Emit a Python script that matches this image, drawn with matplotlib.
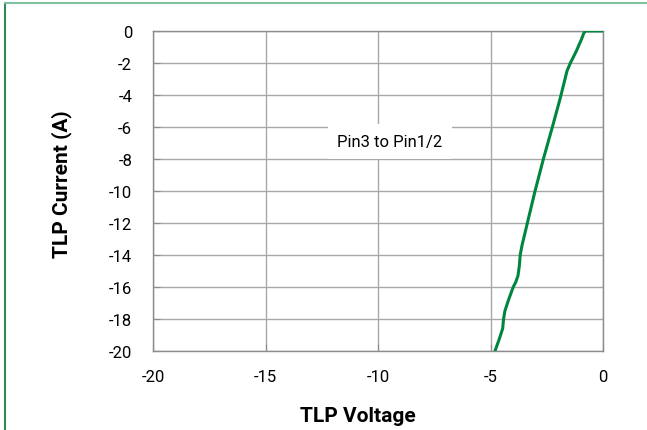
import matplotlib
matplotlib.use("Agg")
import matplotlib.pyplot as plt
from matplotlib.lines import Line2D

# TLP curve, Pin3 to Pin1/2
voltage = [0.0, -0.78, -0.86, -0.95, -1.2, -1.45, -1.6, -1.91, -2.25, -2.65,
           -3.02, -3.32, -3.48, -3.6, -3.68, -3.72, -3.78, -3.88, -3.99,
           -4.21, -4.36, -4.42, -4.46, -4.61, -4.80]
current = [0.0, 0.0, -0.15, -0.5, -1.3, -2.0, -2.5, -4.25, -6.0, -8.0,
           -10.0, -11.75, -12.7, -13.4, -14.0, -14.7, -15.3, -15.7, -16.0,
           -16.85, -17.5, -18.0, -18.6, -19.25, -20.0]

x_ticks = [-20, -15, -10, -5, 0]
y_ticks = [0, -2, -4, -6, -8, -10, -12, -14, -16, -18, -20]

plt.rcParams['font.family'] = ['Roboto', 'DejaVu Sans']

fig = plt.figure(figsize=(6.47, 4.31), dpi=100)
ax = fig.add_axes([0.2365, 0.1833, 0.6955, 0.7425])

# figure frame (only top and left edges visible)
fig.add_artist(Line2D([5 / 647, 5 / 647], [0, 1 - 4 / 431], color='#2e8b57', lw=1.5))
fig.add_artist(Line2D([5 / 647, 1], [1 - 4 / 431, 1 - 4 / 431], color='#7fc3a0', lw=1.5))

ax.plot(voltage, current, color='#00863f', lw=2.2, zorder=3,
        solid_joinstyle='round')

ax.set_xlim(-20, 0)
ax.set_ylim(-20, 0)
ax.set_xticks(x_ticks)
ax.set_yticks(y_ticks)
ax.set_xticklabels([str(v) for v in x_ticks])
ax.set_yticklabels([str(v) for v in y_ticks])
ax.grid(True, color='#a8a8a8', lw=1.0)
for s in ax.spines.values():
    s.set_color('#8c8c8c')
    s.set_linewidth(1.0)
ax.tick_params(axis='both', direction='in', length=5, color='#8c8c8c',
               labelsize=12)
ax.tick_params(axis='y', pad=15)
ax.tick_params(axis='x', pad=13)

ax.set_xlabel('TLP Voltage', fontsize=15, fontweight='bold')
ax.set_ylabel('TLP Current (A)', fontsize=15, fontweight='bold')
ax.xaxis.set_label_coords(0.456, -0.172)
ax.yaxis.set_label_coords(-0.18, 0.525)

ax.text(-9.47, -6.9, 'Pin3 to Pin1/2', fontsize=12, ha='center', va='center',
        bbox=dict(facecolor='white', edgecolor='none', pad=7), zorder=4)

fig.savefig('out.png', dpi=100)
